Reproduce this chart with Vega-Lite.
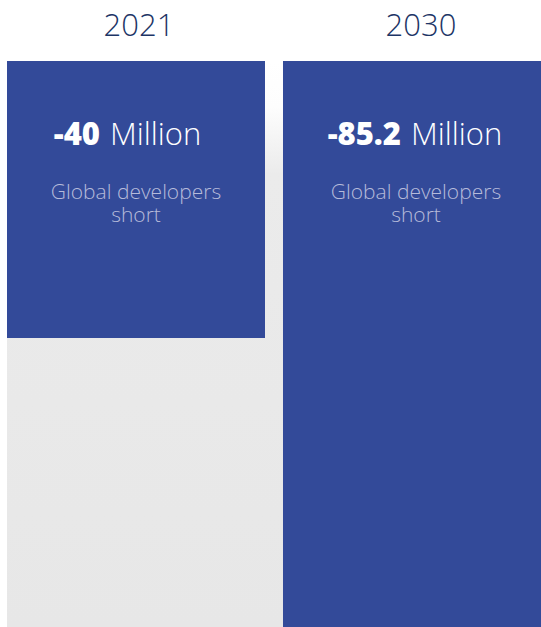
{
  "$schema": "https://vega.github.io/schema/vega-lite/v6.json",
  "width": 534,
  "height": 566,
  "autosize": {"type": "none"},
  "padding": {"left": 7, "top": 61, "right": 0, "bottom": 0},
  "background": "#ffffff",
  "config": {"view": {"stroke": null}, "font": "Open Sans"},
  "data": {
    "values": [
      {"year": "2021", "value": -40, "number": "-40", "unit": "Million", "line1": "Global developers", "line2": "short"},
      {"year": "2030", "value": -85.2, "number": "-85.2", "unit": "Million", "line1": "Global developers", "line2": "short"}
    ]
  },
  "layer": [
    {
      "data": {"values": [{}]},
      "mark": {
        "type": "rect",
        "fill": {
          "gradient": "linear",
          "x1": 0, "y1": 0, "x2": 0, "y2": 1,
          "stops": [
            {"offset": 0, "color": "#ffffff"},
            {"offset": 0.08, "color": "#fdfdfd"},
            {"offset": 0.2, "color": "#ebebeb"},
            {"offset": 1, "color": "#e7e7e7"}
          ]
        }
      },
      "encoding": {}
    },
    {
      "mark": {"type": "bar", "color": "#334a99", "clip": true},
      "encoding": {
        "x": {
          "field": "year", "type": "nominal",
          "scale": {"paddingInner": 0.0652, "paddingOuter": 0},
          "axis": {
            "orient": "top", "title": null, "domain": false, "ticks": false, "tickSize": 0,
            "labelAngle": 0, "labelFontSize": 31, "labelFontWeight": 300, "labelColor": "#1d3566",
            "labelPadding": 26, "labelBaseline": "alphabetic", "labelFont": "Open Sans",
            "labelOffset": {"condition": {"test": "datum.value == '2030'", "value": 9}, "value": 3}
          }
        },
        "y": {"field": "value", "type": "quantitative", "scale": {"domain": [-81.7, 0], "nice": false, "zero": true}, "axis": null}
      }
    },
    {
      "transform": [{"filter": "datum.year == '2021'"}],
      "mark": {"type": "text", "align": "right", "baseline": "alphabetic", "dx": -36, "dy": 84, "fontSize": 31, "fontWeight": 800, "color": "#ffffff"},
      "encoding": {"x": {"field": "year", "type": "nominal"}, "y": {"datum": 0, "type": "quantitative"}, "text": {"field": "number"}}
    },
    {
      "transform": [{"filter": "datum.year == '2021'"}],
      "mark": {"type": "text", "align": "left", "baseline": "alphabetic", "dx": -26, "dy": 84, "fontSize": 31, "fontWeight": 300, "color": "#ffffff"},
      "encoding": {"x": {"field": "year", "type": "nominal"}, "y": {"datum": 0, "type": "quantitative"}, "text": {"field": "unit"}}
    },
    {
      "transform": [{"filter": "datum.year == '2030'"}],
      "mark": {"type": "text", "align": "right", "baseline": "alphabetic", "dx": -11, "dy": 84, "fontSize": 31, "fontWeight": 800, "color": "#ffffff"},
      "encoding": {"x": {"field": "year", "type": "nominal"}, "y": {"datum": 0, "type": "quantitative"}, "text": {"field": "number"}}
    },
    {
      "transform": [{"filter": "datum.year == '2030'"}],
      "mark": {"type": "text", "align": "left", "baseline": "alphabetic", "dx": -1, "dy": 84, "fontSize": 31, "fontWeight": 300, "color": "#ffffff"},
      "encoding": {"x": {"field": "year", "type": "nominal"}, "y": {"datum": 0, "type": "quantitative"}, "text": {"field": "unit"}}
    },
    {
      "transform": [{"filter": "datum.year == '2021'"}],
      "mark": {"type": "text", "align": "center", "baseline": "alphabetic", "dx": 0, "dy": 138, "fontSize": 21, "fontWeight": 300, "color": "#b6bbda"},
      "encoding": {"x": {"field": "year", "type": "nominal"}, "y": {"datum": 0, "type": "quantitative"}, "text": {"field": "line1"}}
    },
    {
      "transform": [{"filter": "datum.year == '2021'"}],
      "mark": {"type": "text", "align": "center", "baseline": "alphabetic", "dx": 0, "dy": 161, "fontSize": 21, "fontWeight": 300, "color": "#b6bbda"},
      "encoding": {"x": {"field": "year", "type": "nominal"}, "y": {"datum": 0, "type": "quantitative"}, "text": {"field": "line2"}}
    },
    {
      "transform": [{"filter": "datum.year == '2030'"}],
      "mark": {"type": "text", "align": "center", "baseline": "alphabetic", "dx": 4, "dy": 138, "fontSize": 21, "fontWeight": 300, "color": "#b6bbda"},
      "encoding": {"x": {"field": "year", "type": "nominal"}, "y": {"datum": 0, "type": "quantitative"}, "text": {"field": "line1"}}
    },
    {
      "transform": [{"filter": "datum.year == '2030'"}],
      "mark": {"type": "text", "align": "center", "baseline": "alphabetic", "dx": 4, "dy": 161, "fontSize": 21, "fontWeight": 300, "color": "#b6bbda"},
      "encoding": {"x": {"field": "year", "type": "nominal"}, "y": {"datum": 0, "type": "quantitative"}, "text": {"field": "line2"}}
    }
  ]
}
